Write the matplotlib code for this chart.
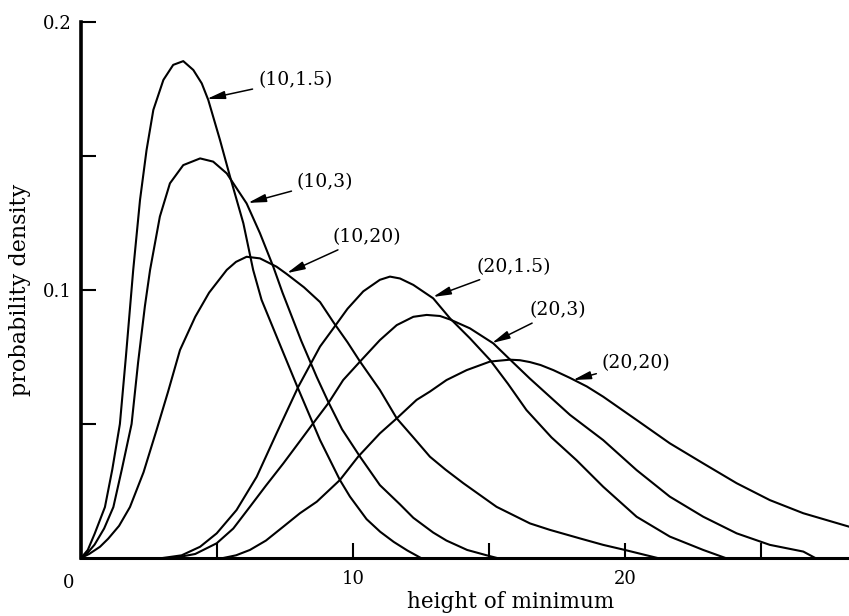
import matplotlib
matplotlib.use('Agg')
import matplotlib.pyplot as plt

plt.rcParams['font.family'] = 'DejaVu Serif'

# curves: (depth, parameter)
x10_15 = [0, 0.25, 0.5, 0.88, 1.15, 1.43, 1.65, 1.92, 2.17, 2.41, 2.66, 3.03, 3.39, 3.76, 4.13,
          4.44, 4.68, 5.11, 5.48, 5.97, 6.33, 6.64, 7.3, 7.93, 8.79, 9.52, 9.89, 10.5, 11.0, 11.5,
          12.0, 12.5]
y10_15 = [0, 0.003, 0.009, 0.019, 0.033, 0.050, 0.075, 0.1075, 0.1336, 0.1522, 0.1672, 0.1784,
          0.184, 0.1854, 0.1821, 0.1771, 0.1709, 0.156, 0.1423, 0.1249, 0.1075, 0.0963, 0.080,
          0.0645, 0.044, 0.0291, 0.0229, 0.0145, 0.0098, 0.006, 0.0028, 0.0]

x10_3 = [0, 0.25, 0.5, 0.85, 1.19, 1.5, 1.86, 2.1, 2.35, 2.54, 2.9, 3.27, 3.76, 4.38, 4.86, 5.36,
         6.09, 6.58, 7.07, 7.41, 8.1, 8.67, 9.09, 9.6, 10.26, 10.99, 11.73, 12.22, 12.95, 13.44,
         14.2, 14.92, 15.3]
y10_3 = [0, 0.002, 0.005, 0.011, 0.019, 0.033, 0.050, 0.073, 0.094, 0.1075, 0.1274, 0.1398, 0.1466,
         0.1491, 0.1479, 0.1435, 0.1323, 0.1212, 0.1087, 0.099, 0.081, 0.0675, 0.0583, 0.048,
         0.0378, 0.0272, 0.0200, 0.015, 0.0095, 0.0065, 0.003, 0.001, 0.0]

x10_20 = [0, 0.3, 0.7, 1.0, 1.4, 1.8, 2.3, 2.78, 3.2, 3.64, 4.2, 4.71, 5.36, 5.7, 6.09, 6.58, 7.19,
          7.56, 8.2, 8.79, 9.28, 9.8, 10.26, 10.99, 11.61, 12.22, 12.83, 13.4, 14.06, 15.28, 16.51,
          17.24, 18.35, 19.2, 20.0, 21.2]
y10_20 = [0, 0.0015, 0.0042, 0.0072, 0.012, 0.019, 0.032, 0.0478, 0.062, 0.0776, 0.090, 0.099,
          0.1075, 0.1105, 0.1124, 0.1118, 0.1087, 0.106, 0.101, 0.0955, 0.088, 0.0805, 0.0733,
          0.0627, 0.0521, 0.045, 0.0378, 0.033, 0.0279, 0.0191, 0.0129, 0.0105, 0.0073, 0.0049,
          0.003, 0.0]

x20_15 = [3.0, 3.7, 4.38, 4.99, 5.72, 6.46, 7.19, 7.99, 8.79, 9.28, 9.8, 10.38, 10.99, 11.36,
          11.73, 12.22, 12.95, 13.57, 14.3, 15.04, 15.7, 16.38, 17.3, 18.22, 19.2, 20.43, 21.65,
          22.88, 23.7]
y20_15 = [0, 0.001, 0.0042, 0.0092, 0.0179, 0.0303, 0.0465, 0.0639, 0.0789, 0.0857, 0.093,
          0.0995, 0.1038, 0.105, 0.1043, 0.1019, 0.0969, 0.0894, 0.082, 0.0739, 0.065, 0.0552,
          0.045, 0.0365, 0.0266, 0.0154, 0.008, 0.003, 0.0]

x20_3 = [3.4, 4.2, 4.99, 5.6, 6.21, 6.8, 7.44, 8.05, 8.54, 9.09, 9.64, 10.26, 10.99, 11.61, 12.22,
         12.71, 13.2, 13.57, 14.3, 15.16, 15.77, 16.5, 17.24, 17.98, 19.2, 20.43, 21.65, 22.88,
         24.11, 25.33, 26.56, 27.0]
y20_3 = [0, 0.0015, 0.0055, 0.011, 0.0191, 0.027, 0.0353, 0.0436, 0.0503, 0.0577, 0.0664, 0.0733,
         0.0813, 0.0869, 0.090, 0.0907, 0.0903, 0.089, 0.0857, 0.0801, 0.0741, 0.067, 0.0602,
         0.0534, 0.044, 0.0328, 0.0229, 0.0154, 0.0092, 0.0049, 0.0024, 0.0]

x20_20 = [5.23, 5.7, 6.21, 6.8, 7.44, 8.05, 8.67, 9.52, 10.19, 10.99, 11.61, 12.34, 12.83, 13.44,
          14.18, 15.04, 15.77, 16.14, 16.51, 16.9, 17.37, 17.98, 18.6, 19.2, 20.43, 21.65, 22.88,
          24.11, 25.33, 26.56, 28.24]
y20_20 = [0, 0.001, 0.003, 0.0065, 0.0117, 0.0167, 0.021, 0.0291, 0.0378, 0.0465, 0.0521, 0.059,
          0.0621, 0.0664, 0.0701, 0.0733, 0.0740, 0.0738, 0.0731, 0.0720, 0.0701, 0.0672, 0.0640,
          0.0602, 0.0515, 0.0428, 0.0353, 0.0279, 0.0216, 0.0167, 0.0117]

labels = ['(10,1.5)', '(10,3)', '(10,20)', '(20,1.5)', '(20,3)', '(20,20)']
# arrow tip on the curve, and where the label sits
tips = [(4.63, 0.1713), (6.14, 0.1325), (7.57, 0.1063), (12.94, 0.0974), (15.11, 0.0802), (18.09, 0.0664)]
label_pos = [(6.51, 0.1784), (7.94, 0.1403), (9.23, 0.1198), (14.56, 0.1086), (16.51, 0.0925), (19.15, 0.0728)]

fig = plt.figure(figsize=(8.49, 6.16), dpi=100)
ax = fig.add_axes([81 / 849, 1 - 558 / 616, 1 - 81 / 849, (558 - 22) / 616])

for xs, ys in [(x10_15, y10_15), (x10_3, y10_3), (x10_20, y10_20),
               (x20_15, y20_15), (x20_3, y20_3), (x20_20, y20_20)]:
    ax.plot(xs, ys, color='black', lw=1.5, solid_joinstyle='round')

for lab, tip, pos in zip(labels, tips, label_pos):
    ax.annotate(lab, xy=tip, xytext=pos, fontsize=13.5, va='center', ha='left',
                arrowprops=dict(arrowstyle='-|>,head_length=0.8,head_width=0.18', color='black',
                                lw=1.1, shrinkA=2, shrinkB=0))

ax.set_xlim(0, 28.24)
ax.set_ylim(0, 0.2)
ax.spines['top'].set_visible(False)
ax.spines['right'].set_visible(False)
ax.spines['left'].set_linewidth(2.6)
ax.spines['bottom'].set_linewidth(2.2)

ax.set_xticks([0, 10, 20])
ax.set_xticklabels(['', '10', '20'])
ax.set_xticks([5, 15, 25], minor=True)
ax.set_yticks([0.1, 0.2])
ax.set_yticklabels(['0.1', '0.2'])
ax.set_yticks([0.05, 0.15], minor=True)
ax.tick_params(which='both', direction='in', length=11, width=1.5, labelsize=13)
ax.tick_params(axis='y', pad=7)
ax.tick_params(axis='x', pad=9)
ax.text(-0.45, -0.006, '0', fontsize=13, ha='center', va='top')

ax.set_ylabel('probability density', fontsize=16, labelpad=8)
ax.set_xlabel('height of minimum', fontsize=15.5)
ax.xaxis.set_label_coords(0.559, -0.062)

fig.savefig('out.png', dpi=100)
